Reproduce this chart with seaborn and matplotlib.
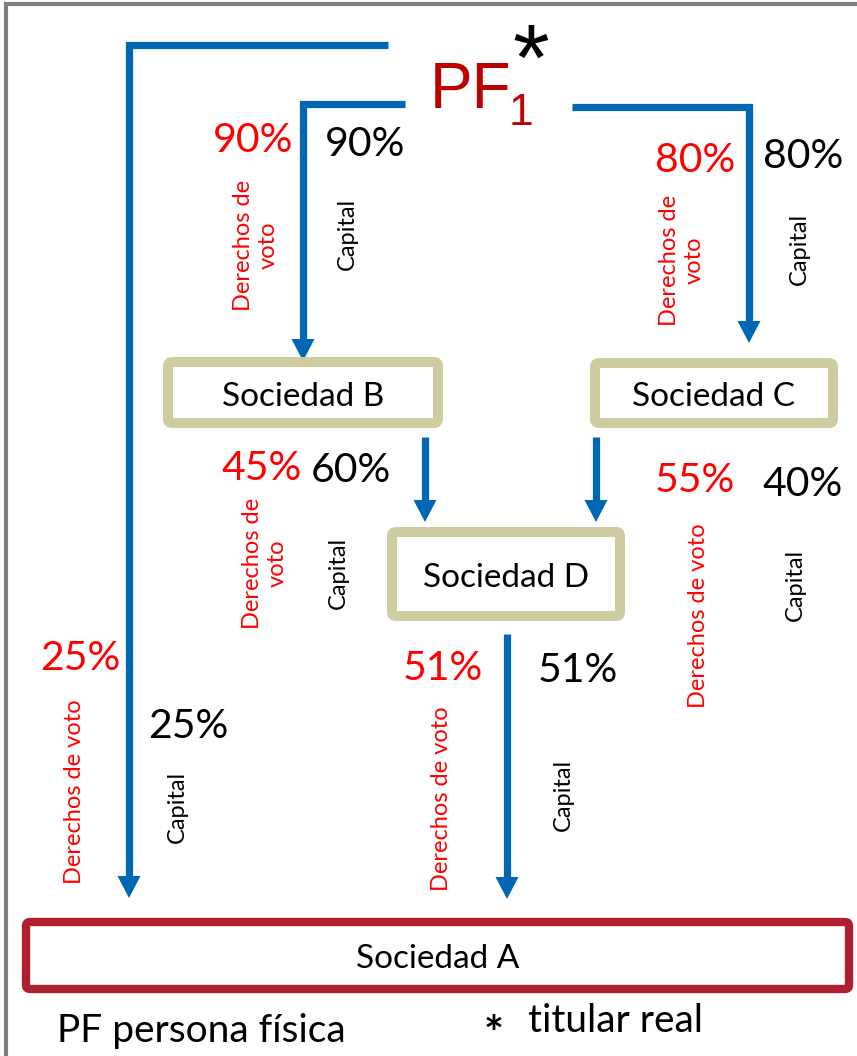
import matplotlib.pyplot as plt
import matplotlib.patches as mpatches
import seaborn as sns

sns.set_theme(style="white")
plt.rcParams['font.family'] = ['Lato', 'DejaVu Sans']

# Datos del esquema de titularidad
entidades = ["Sociedad B", "Sociedad C", "Sociedad D", "Sociedad A"]
origen = ["PF1", "PF1", "Sociedad B", "Sociedad C", "PF1", "Sociedad D"]
destino = ["Sociedad B", "Sociedad C", "Sociedad D", "Sociedad D", "Sociedad A", "Sociedad A"]
derechos_voto = [90, 80, 45, 55, 25, 51]
capital = [90, 80, 60, 40, 25, 51]
texto_voto = ["Derechos de\nvoto", "Derechos de\nvoto", "Derechos de\nvoto",
              "Derechos de voto", "Derechos de voto", "Derechos de voto"]
nota_pf = "PF persona física"
nota_titular = "titular real"

# Colores
azul = "#0067B4"
rojo = "#FF0000"
rojo_pf = "#C00000"
borde_tan = "#CFCCA2"
borde_a = "#B01F2F"
gris = "#7F7F7F"

# Disposición (píxeles)
W, H = 857, 1056
caja_x0 = [168, 595, 392, 26]
caja_x1 = [438, 833, 620, 849]
caja_y0 = [362, 363, 532, 922]
caja_y1 = [423, 423, 616, 989]
caja_lw = [7.2, 7.2, 7.2, 6.0]
caja_color = [borde_tan, borde_tan, borde_tan, borde_a]

rutas = [
    [(405, 104), (303, 104), (303, 361)],
    [(572, 107), (749, 107), (749, 343)],
    [(425, 437), (425, 522)],
    [(596, 437), (596, 522)],
    [(388, 45), (129, 45), (129, 898)],
    [(507, 634), (507, 899)],
]
pos_voto_pct = [(253, 140), (695, 160), (262, 469), (695, 481), (80, 659), (443, 669)]
pos_cap_pct = [(365, 145), (803, 157), (351, 471), (803, 485), (188, 727), (578, 671)]
pos_voto_txt = [(256, 245), (682, 260), (265, 563), (699, 616), (75, 792), (442, 799)]
pos_cap_txt = [(347, 234), (799, 249), (338, 573), (795, 585), (177, 807), (563, 795)]

fig = plt.figure(figsize=(W / 100, H / 100), dpi=100)
ax = fig.add_axes([0, 0, 1, 1])
ax.set_xlim(0, W)
ax.set_ylim(H, 0)
ax.axis("off")

# Marco gris
sns.lineplot(x=[6, 6, W], y=[H, 4, 4], sort=False, estimator=None,
             color=gris, lw=3, ax=ax, solid_joinstyle="miter")

# Flechas
cabeza_l, cabeza_w = 22, 11.5
for ruta in rutas:
    xs = [p[0] for p in ruta]
    ys = [p[1] for p in ruta]
    ys_linea = ys[:-1] + [ys[-1] - cabeza_l + 2]
    sns.lineplot(x=xs, y=ys_linea, sort=False, estimator=None, color=azul,
                 lw=5.2, ax=ax, solid_joinstyle="miter", solid_capstyle="butt")
    tx, ty = xs[-1], ys[-1]
    ax.fill([tx - cabeza_w, tx + cabeza_w, tx], [ty - cabeza_l, ty - cabeza_l, ty],
            color=azul, lw=0)

# Cajas
for nombre, x0, x1, y0, y1, lw, c in zip(entidades, caja_x0, caja_x1, caja_y0,
                                         caja_y1, caja_lw, caja_color):
    ax.add_patch(mpatches.FancyBboxPatch((x0, y0), x1 - x0, y1 - y0,
                                         boxstyle="round,pad=0,rounding_size=4",
                                         fc="white", ec=c, lw=lw, zorder=3))
    ax.text((x0 + x1) / 2, (y0 + y1) / 2 + 4, nombre, ha="center", va="center",
            fontsize=24, color="black", zorder=4)

# Porcentajes y etiquetas
for v, c, pv, pc, tv, tc, etq in zip(derechos_voto, capital, pos_voto_pct, pos_cap_pct,
                                     pos_voto_txt, pos_cap_txt, texto_voto):
    ax.text(pv[0], pv[1], f"{v}%", ha="center", va="center", fontsize=29.5, color=rojo)
    ax.text(pc[0], pc[1], f"{c}%", ha="center", va="center", fontsize=29.5, color="black")
    ax.text(tv[0], tv[1], etq, ha="center", va="center", rotation=90,
            multialignment="center", fontsize=17, color=rojo)
    ax.text(tc[0], tc[1], "Capital", ha="center", va="center", rotation=90,
            fontsize=17, color="black")

# PF1 con asterisco
ax.text(430, 108, "PF", ha="left", va="baseline", fontsize=46, color=rojo_pf,
        family="Liberation Sans")
ax.text(509, 125, "1", ha="left", va="baseline", fontsize=32, color=rojo_pf,
        family="Liberation Sans")
ax.text(531, 90, "*", ha="center", va="baseline", fontsize=68, color="black",
        family="Liberation Sans")

# Notas inferiores
ax.text(57, 1042, nota_pf, ha="left", va="baseline", fontsize=28, color="black")
ax.text(494, 1050, "*", ha="center", va="baseline", fontsize=34, color="black",
        fontweight="bold")
ax.text(528, 1032, nota_titular, ha="left", va="baseline", fontsize=28, color="black")

fig.savefig("out.png", dpi=100)
